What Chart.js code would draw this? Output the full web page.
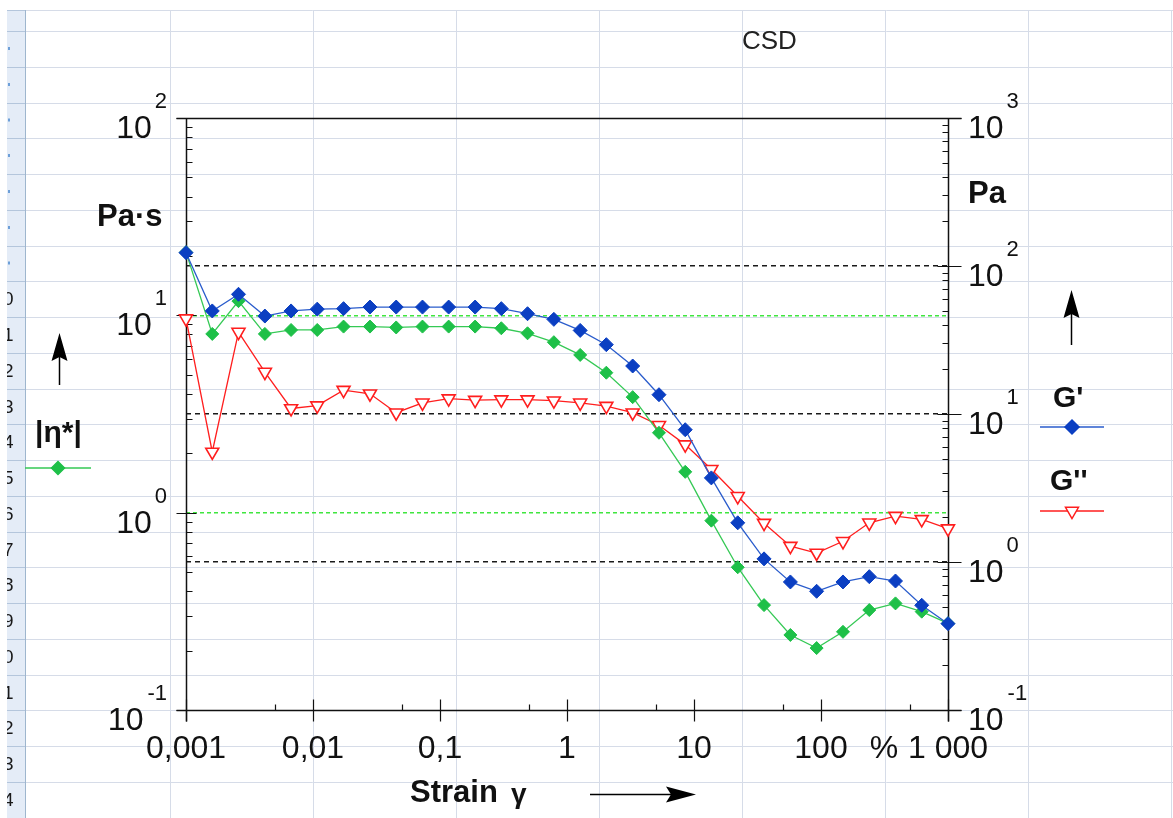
<!DOCTYPE html>
<html>
<head>
<meta charset="utf-8">
<title>CSD amplitude sweep</title>
<script src="https://cdn.jsdelivr.net/npm/chart.js@4.4.0/dist/chart.umd.min.js"></script>
<style>
  html, body { margin: 0; padding: 0; background: #fff; }
  canvas { display: block; }
</style>
</head>
<body>
<canvas id="csd" width="1173" height="818"></canvas>
<script>
// strain amplitude in %
const strain = [0.001, 0.00161, 0.00259, 0.00418, 0.00672, 0.0108, 0.0174, 0.0281, 0.0452, 0.0728,
                0.117, 0.189, 0.304, 0.489, 0.788, 1.27, 2.04, 3.29, 5.30, 8.53,
                13.7, 22.1, 35.6, 57.4, 92.4, 149, 240, 386, 621, 1000];
// storage modulus G' in Pa
const storageModulus = [123, 49.7, 64.4, 45.9, 49.7, 51.1, 51.5, 52.8, 52.8, 52.8,
                        52.8, 52.8, 51.5, 47.6, 43.6, 36.7, 29.4, 21.1, 13.5, 7.83,
                        3.70, 1.84, 1.05, 0.733, 0.634, 0.733, 0.796, 0.744, 0.510, 0.383];
// loss modulus G'' in Pa
const lossModulus = [44.1, 5.54, 35.8, 19.2, 10.9, 11.4, 14.5, 13.7, 10.2, 11.9,
                     12.7, 12.4, 12.5, 12.5, 12.3, 11.9, 11.3, 10.2, 8.39, 6.21,
                     4.23, 2.78, 1.83, 1.28, 1.15, 1.38, 1.84, 2.04, 1.94, 1.68];
// complex viscosity |eta*| in Pa.s
const complexViscosity = [20.9, 8.05, 11.8, 8.05, 8.43, 8.43, 8.77, 8.77, 8.68, 8.77,
                          8.77, 8.77, 8.60, 8.11, 7.31, 6.30, 5.12, 3.85, 2.54, 1.61,
                          0.911, 0.529, 0.340, 0.240, 0.206, 0.249, 0.321, 0.347, 0.315, 0.275];

const xTickValues = [0.001, 0.01, 0.1, 1, 10, 100, 1000];
const xTickLabels = ['0,001', '0,01', '0,1', '1', '10', '100', '1 000'];
const leftExponents = [-1, 0, 1, 2];
const rightExponents = [-1, 0, 1, 2, 3];

const FONT = '"Liberation Sans", Arial, sans-serif';
const BLUE = '#0b3fc2', BLUE_LINE = '#2a5ccc';
const GREEN = '#1ec048', GREEN_LINE = '#35c955';
const RED = '#ff1e1e';

function pairs(xs, ys) {
    return xs.map(function (x, i) { return {x: x, y: ys[i]}; });
}

function isDecade(v) {
    var l = Math.log10(v);
    return Math.abs(l - Math.round(l)) < 1e-6;
}

// spreadsheet cells behind the chart
const sheet = {
    id: 'sheet',
    beforeDraw(chart) {
        var ctx = chart.ctx, W = chart.width, H = chart.height;
        ctx.save();
        ctx.fillStyle = '#fff';
        ctx.fillRect(0, 0, W, H);
        ctx.fillStyle = '#e4ecf7';
        ctx.fillRect(7, 10, 19, H - 10);

        ctx.lineWidth = 1;
        ctx.strokeStyle = '#d6dce8';
        var cols = [170, 313, 456, 599, 742, 885, 1028, 1171];
        cols.forEach(function (x) {
            ctx.beginPath(); ctx.moveTo(x + 0.5, 10); ctx.lineTo(x + 0.5, H); ctx.stroke();
        });
        var rows = [10];
        for (var y = 31; y < H; y += 35.75) rows.push(Math.round(y));
        rows.forEach(function (y) {
            ctx.strokeStyle = '#d6dce8';
            ctx.beginPath(); ctx.moveTo(26, y + 0.5); ctx.lineTo(W, y + 0.5); ctx.stroke();
            ctx.strokeStyle = '#b4c6dc';
            ctx.beginPath(); ctx.moveTo(7, y + 0.5); ctx.lineTo(26, y + 0.5); ctx.stroke();
        });
        ctx.strokeStyle = '#9eb6ce';
        ctx.beginPath(); ctx.moveTo(25.5, 10); ctx.lineTo(25.5, H); ctx.stroke();

        // row numbers, mostly cut off by the window edge
        ctx.beginPath(); ctx.rect(7, 10, 19, H - 10); ctx.clip();
        ctx.font = '19px ' + FONT;
        ctx.textAlign = 'right';
        ctx.textBaseline = 'middle';
        ctx.fillStyle = '#1a1a1a';
        for (var r = 8; r < rows.length; r++) {
            var mid = (rows[r] + (rows[r + 1] || H + 36)) / 2;
            ctx.fillText(String(r + 2), 13.5, mid + 1);
        }
        // the shorter numbers higher up only show a speck
        ctx.fillStyle = '#6d9fd8';
        for (var k = 1; k < 8; k++) {
            var m2 = (rows[k] + rows[k + 1]) / 2;
            ctx.fillRect(8, m2 - 2, 2, 3);
        }
        ctx.restore();
    }
};

function drawPow(ctx, exp, x, y, align) {
    var e = String(exp);
    ctx.font = '32px ' + FONT;
    var wBase = ctx.measureText('10').width;
    ctx.font = '22px ' + FONT;
    var wExp = ctx.measureText(e).width;
    var gap = exp < 0 ? 4 : 3;
    var left = align === 'right' ? x - wExp - gap - wBase : x;
    ctx.textAlign = 'left';
    ctx.textBaseline = 'alphabetic';
    ctx.font = '32px ' + FONT;
    ctx.fillText('10', left, y + 20);
    ctx.font = '22px ' + FONT;
    ctx.fillText(e, left + wBase + gap, y - 10);
}

function arrowUp(ctx, x, yBottom, yTip) {
    ctx.beginPath(); ctx.moveTo(x, yBottom); ctx.lineTo(x, yTip + 20); ctx.stroke();
    ctx.beginPath();
    ctx.moveTo(x, yTip); ctx.lineTo(x + 8, yTip + 28); ctx.lineTo(x, yTip + 24); ctx.lineTo(x - 8, yTip + 28);
    ctx.closePath(); ctx.fill();
}

function legendSample(ctx, x0, x1, y, lineColor, style, fill, stroke, radius, rotation) {
    ctx.strokeStyle = lineColor;
    ctx.lineWidth = 1.5;
    ctx.beginPath(); ctx.moveTo(x0, y); ctx.lineTo(x1, y); ctx.stroke();
    ctx.fillStyle = fill;
    ctx.strokeStyle = stroke;
    Chart.helpers.drawPoint(ctx, {pointStyle: style, radius: radius, rotation: rotation, borderWidth: 1.5}, (x0 + x1) / 2, y);
}

// axis frame with log ticks, drawn under the markers
const frame = {
    id: 'frame',
    beforeDatasetsDraw(chart) {
        var ctx = chart.ctx, a = chart.chartArea;
        var sx = chart.scales.x, sl = chart.scales.yL, sr = chart.scales.yR;
        var L = Math.round(a.left) + 0.5, R = Math.round(a.right) + 0.5;
        var T = Math.round(a.top) + 0.5, B = Math.round(a.bottom) + 0.5;
        ctx.save();
        ctx.strokeStyle = '#111';
        ctx.lineWidth = 1.5;
        ctx.beginPath();
        ctx.moveTo(L - 10, T); ctx.lineTo(R + 13, T);
        ctx.moveTo(L - 10, B); ctx.lineTo(R + 13, B);
        ctx.moveTo(L, T); ctx.lineTo(L, B + 11);
        ctx.moveTo(R, T); ctx.lineTo(R, B + 11);
        ctx.stroke();

        ctx.lineWidth = 1.2;
        ctx.beginPath();
        // left axis
        leftExponents.forEach(function (e) {
            var y = Math.round(sl.getPixelForValue(Math.pow(10, e))) + 0.5;
            ctx.moveTo(L - 10, y); ctx.lineTo(L + 10, y);
            if (e < 2) {
                for (var m = 2; m <= 9; m++) {
                    var ym = Math.round(sl.getPixelForValue(m * Math.pow(10, e))) + 0.5;
                    ctx.moveTo(L, ym); ctx.lineTo(L + 6, ym);
                }
            }
        });
        // right axis
        rightExponents.forEach(function (e) {
            var y = Math.round(sr.getPixelForValue(Math.pow(10, e))) + 0.5;
            ctx.moveTo(R - 11, y); ctx.lineTo(R + 13, y);
            if (e < 3) {
                for (var m = 2; m <= 9; m++) {
                    var ym = Math.round(sr.getPixelForValue(m * Math.pow(10, e))) + 0.5;
                    ctx.moveTo(R - 6, ym); ctx.lineTo(R, ym);
                }
            }
        });
        // strain axis: decades plus a short tick at 5
        xTickValues.forEach(function (v, i) {
            var x = Math.round(sx.getPixelForValue(v)) + 0.5;
            ctx.moveTo(x, B - 11); ctx.lineTo(x, B + 11);
            if (i > 0) {
                var xm = Math.round(sx.getPixelForValue(v / 2)) + 0.5;
                ctx.moveTo(xm, B - 6); ctx.lineTo(xm, B);
            }
        });
        ctx.stroke();
        ctx.restore();
    },
    afterDraw(chart) {
        var ctx = chart.ctx;
        var sx = chart.scales.x, sl = chart.scales.yL, sr = chart.scales.yR;
        ctx.save();
        ctx.fillStyle = '#111';
        leftExponents.forEach(function (e) {
            drawPow(ctx, e, 167, sl.getPixelForValue(Math.pow(10, e)), 'right');
        });
        rightExponents.forEach(function (e) {
            drawPow(ctx, e, 968, sr.getPixelForValue(Math.pow(10, e)), 'left');
        });

        ctx.font = '32px ' + FONT;
        ctx.textAlign = 'center';
        ctx.textBaseline = 'alphabetic';
        xTickValues.forEach(function (v, i) {
            ctx.fillText(xTickLabels[i], sx.getPixelForValue(v), 758);
        });
        ctx.fillText('%', 884, 758);

        ctx.textAlign = 'left';
        ctx.font = 'bold 31px ' + FONT;
        ctx.fillText('Strain', 410, 802);
        ctx.fillText('Pa\u00b7s', 97, 226);
        ctx.fillText('Pa', 968, 203);
        ctx.font = 'bold 28px ' + FONT;
        ctx.fillText('\u03b3', 511, 803);
        ctx.font = 'bold 30px ' + FONT;
        ctx.fillText('|\u03b7*|', 35, 442);
        ctx.fillText("G'", 1053, 407);
        ctx.fillText("G''", 1050, 490);

        ctx.font = '26px ' + FONT;
        ctx.fillStyle = '#222';
        ctx.fillText('CSD', 742, 49);

        // direction arrows
        ctx.fillStyle = '#000';
        ctx.strokeStyle = '#000';
        ctx.lineWidth = 1.5;
        ctx.beginPath(); ctx.moveTo(590, 794.5); ctx.lineTo(672, 794.5); ctx.stroke();
        ctx.beginPath();
        ctx.moveTo(696, 794.5); ctx.lineTo(666, 786.5); ctx.lineTo(671, 794.5); ctx.lineTo(666, 802.5);
        ctx.closePath(); ctx.fill();
        arrowUp(ctx, 59.5, 385, 333);
        arrowUp(ctx, 1071.5, 345, 290);

        legendSample(ctx, 25, 91, 468, GREEN_LINE, 'rectRot', GREEN, GREEN, 6.5, 0);
        legendSample(ctx, 1040, 1104, 427, BLUE_LINE, 'rectRot', BLUE, BLUE, 7, 0);
        legendSample(ctx, 1040, 1104, 511, RED, 'triangle', '#fff', RED, 7.5, 180);
        ctx.restore();
    }
};

new Chart(document.getElementById('csd'), {
    type: 'line',
    data: {
        datasets: [
            {
                label: "G'", data: pairs(strain, storageModulus), yAxisID: 'yR',
                borderColor: BLUE_LINE, borderWidth: 1.3,
                pointStyle: 'rectRot', pointRadius: 7, pointBackgroundColor: BLUE, pointBorderColor: BLUE,
                pointBorderWidth: 1, order: 0, clip: false
            },
            {
                label: '|\u03b7*|', data: pairs(strain, complexViscosity), yAxisID: 'yL',
                borderColor: GREEN_LINE, borderWidth: 1.3,
                pointStyle: 'rectRot', pointRadius: 6.5, pointBackgroundColor: GREEN, pointBorderColor: GREEN,
                pointBorderWidth: 1, order: 1, clip: false
            },
            {
                label: "G''", data: pairs(strain, lossModulus), yAxisID: 'yR',
                borderColor: RED, borderWidth: 1.3,
                pointStyle: 'triangle', pointRotation: 180, pointRadius: 7.5,
                pointBackgroundColor: '#fff', pointBorderColor: RED, pointBorderWidth: 1.6,
                order: 2, clip: false
            }
        ]
    },
    options: {
        responsive: false,
        animation: false,
        layout: { padding: { left: 186, top: 118, right: 225, bottom: 108 } },
        plugins: { legend: { display: false }, tooltip: { enabled: false } },
        elements: { line: { tension: 0 } },
        scales: {
            x: {
                type: 'logarithmic', position: 'bottom', min: 0.001, max: 1000,
                ticks: { display: false }, grid: { display: false }, border: { display: false },
                afterFit: function (s) { s.height = 0; }
            },
            yL: {
                type: 'logarithmic', position: 'left', min: 0.1, max: 100,
                ticks: { display: false },
                grid: {
                    drawTicks: false, lineWidth: 1.5,
                    color: function (c) {
                        var v = c.tick.value;
                        return isDecade(v) && v > 0.1 && v < 100 ? '#3fe63f' : 'transparent';
                    }
                },
                border: { display: false, dash: [4, 3] },
                afterFit: function (s) { s.width = 0; }
            },
            yR: {
                type: 'logarithmic', position: 'right', min: 0.1, max: 1000,
                ticks: { display: false },
                grid: {
                    drawTicks: false, lineWidth: 1.4,
                    color: function (c) {
                        var v = c.tick.value;
                        return isDecade(v) && v > 0.1 && v < 1000 ? '#1a1a1a' : 'transparent';
                    }
                },
                border: { display: false, dash: [5, 4] },
                afterFit: function (s) { s.width = 0; }
            }
        }
    },
    plugins: [sheet, frame]
});
</script>
</body>
</html>
